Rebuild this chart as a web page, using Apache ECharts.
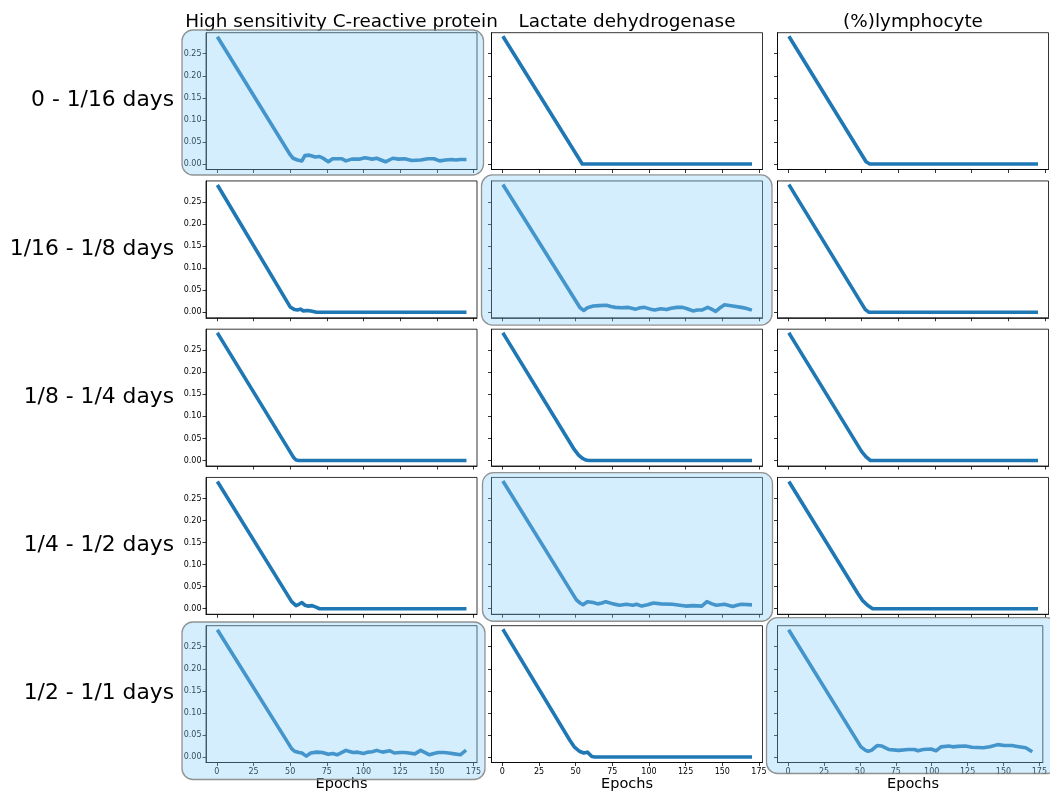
<!DOCTYPE html>
<html>
<head>
<meta charset="utf-8">
<script src="https://cdn.jsdelivr.net/npm/echarts@6/dist/echarts.min.js"></script>
<style>
html,body{margin:0;padding:0;background:#fff;}
#chart{width:1050px;height:791px;}
</style>
</head>
<body>
<div id="chart"></div>
<script>
// ---------- data ----------
const columnTitles = ["High sensitivity C-reactive protein", "Lactate dehydrogenase", "(%)lymphocyte"];
const rowLabels = ["0 - 1/16 days", "1/16 - 1/8 days", "1/8 - 1/4 days", "1/4 - 1/2 days", "1/2 - 1/1 days"];
const xAxisTitle = "Epochs";
const yTickValues = [0, 0.05, 0.10, 0.15, 0.20, 0.25];
const xTickValues = [0, 25, 50, 75, 100, 125, 150, 175];

// [epoch, loss] — High sensitivity C-reactive protein
const crp_0_1_16 = [[1,0.285],[50,0.021],[52,0.013],[55,0.009],[58,0.007],[60,0.019],[63,0.02],[65,0.018],[67,0.016],[70,0.017],[73,0.012],[76,0.005],[79,0.012],[82,0.012],[85,0.012],[88,0.007],[92,0.011],[97,0.011],[101,0.014],[106,0.011],[109,0.013],[112,0.009],[115,0.005],[120,0.013],[124,0.011],[128,0.012],[133,0.008],[139,0.009],[144,0.012],[148,0.012],[152,0.007],[156,0.009],[160,0.01],[163,0.009],[166,0.01],[169,0.01]];
const crp_1_16_1_8 = [[1,0.285],[50,0.012],[53,0.006],[55,0.005],[57,0.007],[59,0.003],[62,0.004],[65,0.002],[68,0],[169,0]];
const crp_1_8_1_4 = [[1,0.286],[52.5,0.006],[54,0.001],[56,0],[169,0]];
const crp_1_4_1_2 = [[1,0.285],[51,0.016],[54,0.007],[56,0.01],[58,0.014],[60,0.008],[62,0.006],[65,0.007],[68,0.003],[70,0],[169,0]];
const crp_1_2_1_1 = [[1,0.285],[51,0.019],[53,0.013],[56,0.01],[58,0.009],[61,0.002],[64,0.009],[68,0.011],[72,0.01],[76,0.006],[79,0.008],[82,0.005],[85,0.01],[88,0.015],[91,0.012],[93,0.01],[96,0.011],[100,0.008],[103,0.011],[106,0.012],[109,0.015],[113,0.011],[118,0.014],[121,0.009],[125,0.01],[128,0.01],[131,0.009],[135,0.007],[139,0.015],[142,0.01],[145,0.005],[148,0.008],[151,0.01],[155,0.01],[158,0.009],[162,0.007],[166,0.005],[169,0.013]];

// Lactate dehydrogenase
const ldh_0_1_16 = [[1,0.286],[54.5,0],[169,0]];
const ldh_1_16_1_8 = [[1,0.286],[53,0.01],[55.5,0.004],[58,0.01],[62,0.014],[66,0.015],[71,0.016],[74,0.013],[77,0.011],[81,0.01],[86,0.011],[91,0.007],[94,0.01],[97,0.011],[101,0.007],[104,0.005],[108,0.008],[112,0.006],[115,0.009],[119,0.011],[123,0.011],[126,0.008],[130,0.003],[133,0.005],[136,0.005],[140,0.011],[142,0.008],[145.5,0.002],[148,0.009],[151.5,0.017],[157,0.014],[163,0.011],[166,0.009],[169,0.006]];
const ldh_1_8_1_4 = [[1,0.286],[49,0.025],[52,0.012],[55,0.004],[57,0.001],[59,0],[169,0]];
const ldh_1_4_1_2 = [[1,0.286],[50.5,0.02],[53,0.013],[55,0.009],[58,0.016],[62,0.014],[65,0.011],[68,0.013],[70.5,0.016],[75.5,0.011],[80,0.008],[84.5,0.01],[89,0.008],[91.5,0.01],[95,0.006],[99,0.009],[103,0.013],[108,0.011],[116,0.01],[121,0.008],[125,0.006],[130,0.007],[136,0.006],[139.5,0.016],[143,0.011],[146,0.008],[151.5,0.01],[154,0.008],[157,0.005],[160,0.008],[163,0.01],[169,0.009]];
const ldh_1_2_1_1 = [[1,0.286],[46,0.038],[49,0.023],[52.5,0.013],[55.5,0.009],[58,0.011],[61,0.001],[63,0],[169,0]];

// (%)lymphocyte
const lym_0_1_16 = [[1,0.286],[53,0.005],[55.5,0],[169,0]];
const lym_1_16_1_8 = [[1,0.286],[52.5,0.006],[55,0],[169,0]];
const lym_1_8_1_4 = [[1,0.286],[50,0.02],[53,0.008],[56,0],[169,0]];
const lym_1_4_1_2 = [[1,0.285],[47.5,0.034],[50.5,0.019],[54,0.008],[57.5,0],[169,0]];
const lym_1_2_1_1 = [[1,0.285],[50.7,0.023],[54,0.015],[55.7,0.013],[58,0.015],[62,0.026],[65,0.025],[70,0.017],[77,0.015],[83.5,0.017],[88,0.017],[90.5,0.014],[94,0.017],[99.5,0.018],[103,0.014],[106.5,0.023],[112,0.025],[114.5,0.023],[118,0.024],[123.5,0.025],[128,0.022],[136,0.021],[140.5,0.023],[146,0.028],[150.7,0.026],[156,0.026],[159.5,0.024],[165.5,0.021],[169,0.014]];

const panelData = [
  [crp_0_1_16, ldh_0_1_16, lym_0_1_16],
  [crp_1_16_1_8, ldh_1_16_1_8, lym_1_16_1_8],
  [crp_1_8_1_4, ldh_1_8_1_4, lym_1_8_1_4],
  [crp_1_4_1_2, ldh_1_4_1_2, lym_1_4_1_2],
  [crp_1_2_1_1, ldh_1_2_1_1, lym_1_2_1_1]
];
// highlighted panels [row, col]
const highlighted = [[0,0],[1,1],[3,1],[4,0],[4,2]];

// ---------- layout ----------
const FONT = "DejaVu Sans";
const colLeft = [206, 491.5, 777.5];
const rowTop0 = 32.7, rowStep = 148.25;
const gW = 271, gH = 136.8;
const boxPads = { // [left, top, right, bottom]
  "0,0": [24, 2.7, 6.5, 5.5],
  "1,1": [10, 6, 9.5, 7.3],
  "3,1": [9, 4.8, 10, 7],
  "4,0": [24, 3.7, 8, 17],
  "4,2": [11, 8, 9, 11]
};

const grids = [], xAxes = [], yAxes = [], series = [], graphics = [];
let idx = 0;
for (let r = 0; r < 5; r++) {
  for (let c = 0; c < 3; c++) {
    const top = rowTop0 + rowStep * r;
    grids.push({left: colLeft[c], top: top, width: gW, height: gH, show: true,
      borderColor: '#000', borderWidth: 0.8, backgroundColor: '#fff', containLabel: false});
    xAxes.push({type: 'value', gridIndex: idx, min: -7.4, max: 177.4,
      axisLine: {show: true, onZero: false, lineStyle: {color: '#000', width: 0.8}},
      axisTick: {show: true, length: 3.5, lineStyle: {color: '#000', width: 0.8}, customValues: xTickValues},
      axisLabel: {show: r === 4, margin: 5, fontFamily: FONT, fontSize: 8, color: '#000', customValues: xTickValues,
        formatter: v => String(v)},
      splitLine: {show: false}});
    yAxes.push({type: 'value', gridIndex: idx, min: -0.0125, max: 0.2976,
      axisLine: {show: true, onZero: false, lineStyle: {color: '#000', width: 0.8}},
      axisTick: {show: true, length: 3.5, lineStyle: {color: '#000', width: 0.8}, customValues: yTickValues},
      axisLabel: {show: c === 0, margin: 4.5, fontFamily: FONT, fontSize: 8, color: '#000', customValues: yTickValues,
        formatter: v => v.toFixed(2)},
      splitLine: {show: false}});
    series.push({type: 'line', xAxisIndex: idx, yAxisIndex: idx, data: panelData[r][c],
      symbol: 'none', smooth: false, clip: false,
      lineStyle: {color: '#1f77b4', width: 3.6, cap: 'square', join: 'round'}, z: 3});
    idx++;
  }
}

highlighted.forEach(([r, c]) => {
  const p = boxPads[r + ',' + c];
  const top = rowTop0 + rowStep * r;
  const x = colLeft[c] - p[0], y = top - p[1];
  graphics.push({type: 'rect', z: 100, silent: true,
    shape: {x: x, y: y, width: gW + p[0] + p[2], height: gH + p[1] + p[3], r: 11},
    style: {fill: 'rgba(135,206,250,0.35)', stroke: 'rgba(128,128,128,0.85)', lineWidth: 1.3}});
});

columnTitles.forEach((t, c) => {
  graphics.push({type: 'text', z: 50, x: colLeft[c] + gW / 2, y: 22.5,
    style: {text: t, font: '18.4px "DejaVu Sans"', fill: '#000', textAlign: 'center', textVerticalAlign: 'middle'}});
  graphics.push({type: 'text', z: 50, x: colLeft[c] + gW / 2, y: 784.5,
    style: {text: xAxisTitle, font: '14.5px "DejaVu Sans"', fill: '#000', textAlign: 'center', textVerticalAlign: 'middle'}});
});
rowLabels.forEach((t, r) => {
  graphics.push({type: 'text', z: 50, x: 174, y: rowTop0 + rowStep * r + gH / 2 - 0.5,
    style: {text: t, font: '21.8px "DejaVu Sans"', fill: '#000', textAlign: 'right', textVerticalAlign: 'middle'}});
});

const chart = echarts.init(document.getElementById('chart'), null, {renderer: 'canvas'});
chart.setOption({
  animation: false,
  backgroundColor: '#fff',
  grid: grids, xAxis: xAxes, yAxis: yAxes, series: series,
  graphic: {elements: graphics}
});
</script>
</body>
</html>
